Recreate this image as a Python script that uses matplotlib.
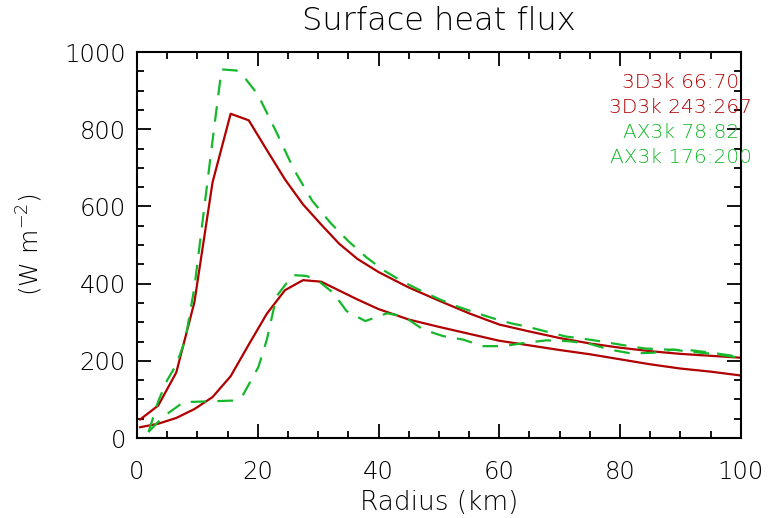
import matplotlib
matplotlib.use("Agg")
import matplotlib.pyplot as plt
import matplotlib.transforms as mtransforms
from matplotlib.ticker import MultipleLocator

plt.rcParams["font.weight"] = "light"
plt.rcParams["axes.titleweight"] = "light"
plt.rcParams["axes.labelweight"] = "light"

# 3D3k runs (solid red)
r_3d = [0.5, 3.5, 6.5, 9.5, 12.5, 15.5, 18.5, 21.5, 24.5, 27.5, 30.5, 33.5,
        36.5, 40, 45, 50, 55, 60, 65, 70, 75, 80, 85, 90, 95, 100]
flux_3d_66_70 = [48, 84, 170, 352, 662, 840, 823, 746, 670, 605, 553, 503,
                 464, 430, 390, 356, 323, 294, 276, 259, 245, 234, 225, 218, 213, 208]
flux_3d_243_267 = [28, 37, 52, 75, 106, 160, 242, 322, 383, 409, 405, 382,
                   359, 334, 307, 288, 270, 252, 240, 228, 217, 204, 191, 180, 172, 162]

# AX3k runs (dashed green)
r_ax_78_82 = [1.9, 3.5, 5, 6.5, 8, 9.5, 11, 12.5, 14, 16.5, 18, 20, 23, 26, 29,
              32, 35, 38, 41, 44, 47, 50, 53, 56, 59, 62, 65, 68, 71, 74, 77,
              80, 84, 88, 92, 96, 100]
flux_ax_78_82 = [15, 95, 150, 190, 255, 390, 580, 770, 955, 952, 930, 890, 795,
                 695, 615, 558, 510, 468, 433, 405, 382, 360, 341, 325, 310, 297,
                 287, 275, 263, 257, 250, 242, 232, 229, 227, 219, 210]
r_ax_176_200 = [1.9, 4.4, 7.7, 12, 16, 17.6, 20.1, 21.5, 23.1, 24.8, 25.9, 28,
                29.7, 32.5, 34.7, 37.8, 41.4, 44.1, 47.4, 50.7, 54, 57.3, 60.6,
                64.5, 67.8, 71.4, 75, 78.3, 81.9, 85.5, 88.8, 91.3, 95.4, 100]
flux_ax_176_200 = [16, 56, 93, 95, 97, 113, 184, 255, 367, 402, 422, 420, 411,
                   376, 329, 303, 323, 316, 281, 264, 255, 238, 238, 247, 253,
                   251, 244, 229, 219, 221, 229, 224, 218, 208]

labels = ["3D3k 66:70", "3D3k 243:267", "AX3k 78:82", "AX3k 176:200"]
red = "#b00000"
green = "#14b82a"

fig = plt.figure(figsize=(7.7, 5.18), dpi=100)
ax = fig.add_axes([0.178, 0.1544, 0.784, 0.7452])

ax.plot(r_3d, flux_3d_66_70, color=red, lw=1.6)
ax.plot(r_3d, flux_3d_243_267, color=red, lw=1.6)
ax.plot(r_ax_78_82, flux_ax_78_82, color=green, lw=1.6, dashes=(7, 5))
ax.plot(r_ax_176_200, flux_ax_176_200, color=green, lw=1.6, dashes=(7, 5))

ax.set_xlim(0, 100)
ax.set_ylim(0, 1000)
ax.xaxis.set_major_locator(MultipleLocator(20))
ax.xaxis.set_minor_locator(MultipleLocator(5))
ax.yaxis.set_major_locator(MultipleLocator(200))
ax.yaxis.set_minor_locator(MultipleLocator(50))
ax.tick_params(which="both", direction="in", top=True, right=True, width=1.3)
ax.tick_params(which="major", length=10, labelsize=17.5, labelcolor="black")
ax.tick_params(which="minor", length=5)
ax.tick_params(axis="x", pad=16)
ax.tick_params(axis="y", pad=8)
for s in ax.spines.values():
    s.set_linewidth(1.5)

# nudge the end labels on the y axis inward
fig.canvas.draw()
ylabels = ax.get_yticklabels()
ylabels[0].set_transform(ylabels[0].get_transform() +
                         mtransforms.ScaledTranslation(0, 10 / 100, fig.dpi_scale_trans))
ylabels[-1].set_transform(ylabels[-1].get_transform() +
                          mtransforms.ScaledTranslation(0, -8 / 100, fig.dpi_scale_trans))

ax.set_title("Surface heat flux", fontsize=23, pad=16)
ax.set_xlabel("Radius (km)", fontsize=19, labelpad=4)
ax.set_ylabel("(W m$^{-2}$)", fontsize=18, labelpad=14)

colors = [red, red, green, green]
for i, (lab, c) in enumerate(zip(labels, colors)):
    fig.text(0.884, 1 - (82 + 25.3 * i) / 518, lab, color=c, fontsize=14.5,
             ha="center", va="center")

fig.savefig("out.png", dpi=100)
